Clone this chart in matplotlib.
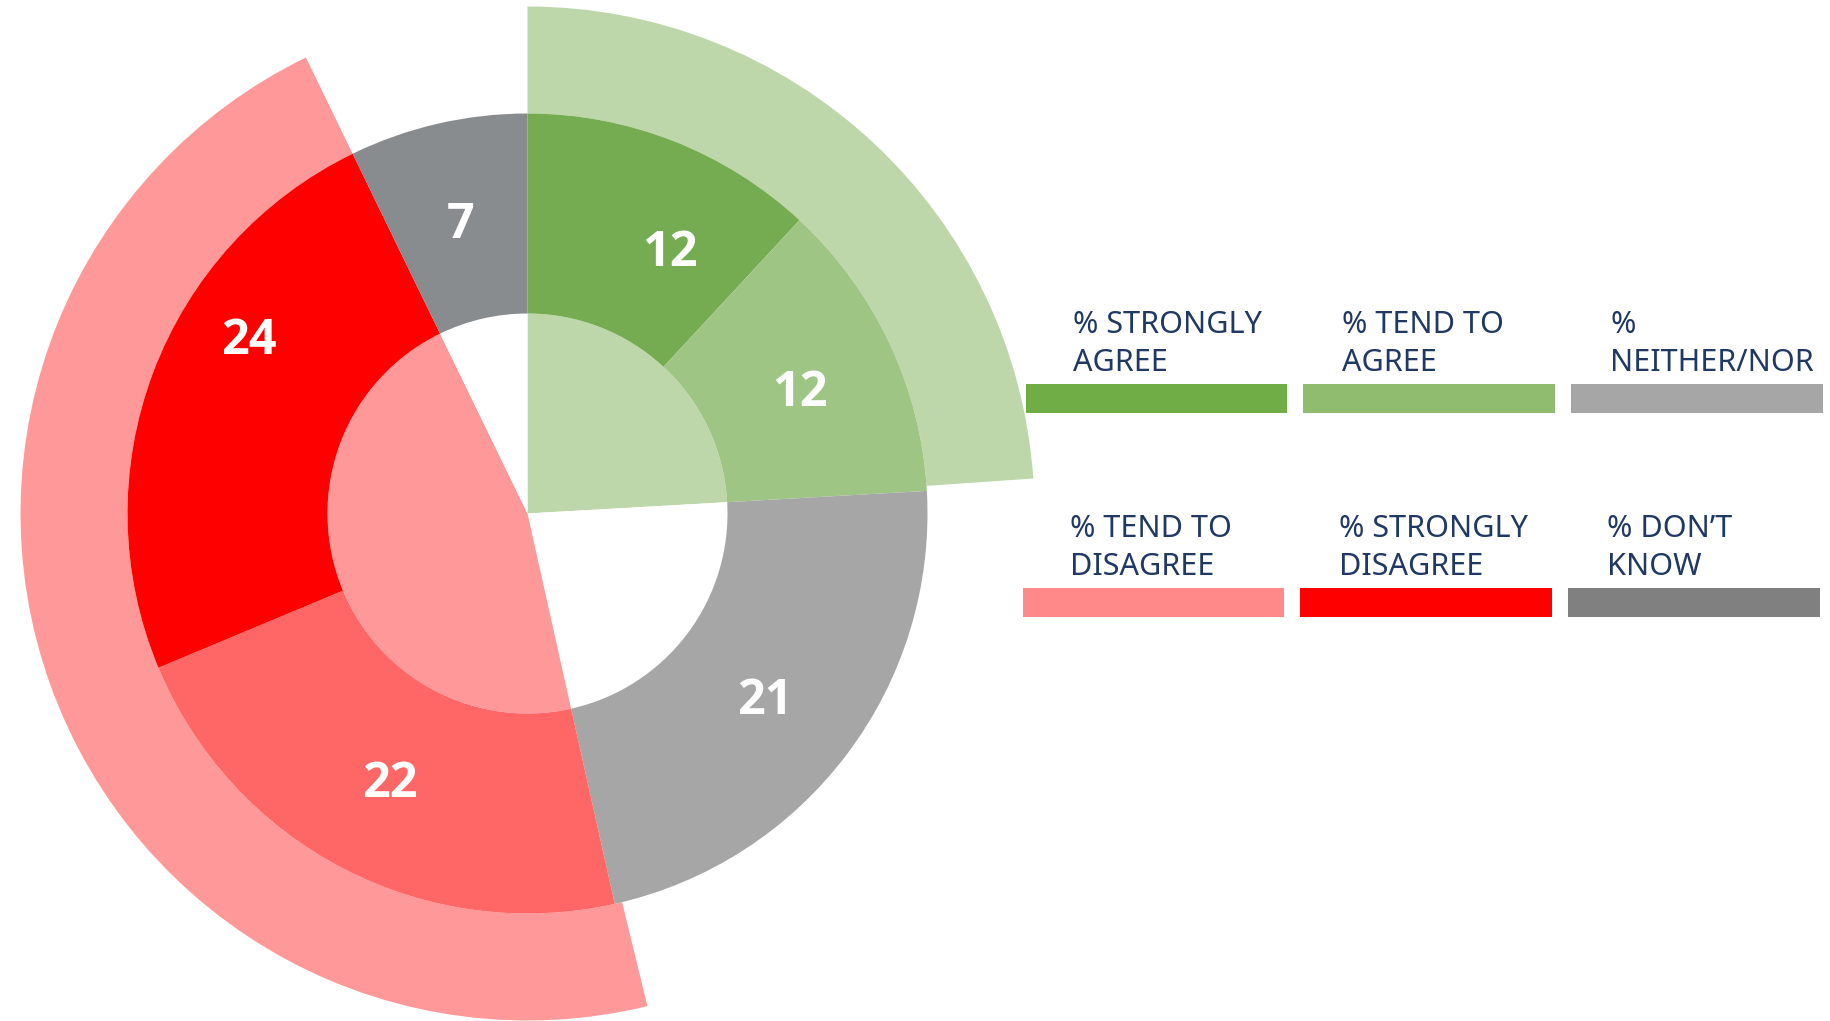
import numpy as np
import matplotlib.pyplot as plt
from matplotlib.patches import Wedge, Rectangle

# --- Data ---
categories = ['% STRONGLY\nAGREE', '% TEND TO\nAGREE', '%\nNEITHER/NOR',
              '% TEND TO\nDISAGREE', '% STRONGLY\nDISAGREE', '% DON\u2019T\nKNOW']
labels = [12, 12, 21, 22, 24, 7]
# slice sizes as drawn in the picture (percent of the circle)
shares = [11.9, 12.2, 22.4, 22.2, 24.1, 7.2]
# inner pie groups: agree (first two), neither, disagree (next two), don't know
groups = [[0, 1], [2], [3, 4], [5]]
# outer ring: agree, (gap), disagree, (gap)
outer_shares = [23.9, 22.3, 46.6, 7.2]

ring_colors = ['#75AC51', '#9FC585', '#A6A6A6', '#FF6666', '#FF0000', '#898C8F']
group_colors = ['#BDD7AA', 'white', '#FF9999', 'white']
outer_colors = ['#BDD7AA', None, '#FF9999', None]
legend_colors = ['#70AD47', '#8FBC6F', '#A6A6A6', '#FF8888', '#FF0000', '#808080']
label_nudge = [6.8, 0.6, 0.6, 0, 11.6, 0]       # degrees
label_rad = [300, 300, 300, 300, 330, 300]

W, H = 1830, 1021
fig = plt.figure(figsize=(W / 100, H / 100), dpi=100)
ax = fig.add_axes([0, 0, 1, 1])
ax.set_xlim(0, W)
ax.set_ylim(0, H)
ax.axis('off')

cx, cy = 527.5, H - 513.5
r_in, r_mid, r_out = 200, 400, 507

ang = np.concatenate([[0], np.cumsum(shares)]) / sum(shares) * 360  # clockwise from north
oang = np.concatenate([[0], np.cumsum(outer_shares)]) / sum(outer_shares) * 360


def wedge(a0, a1, r, width, color):
    ax.add_patch(Wedge((cx, cy), r, 90 - a1, 90 - a0, width=width,
                       facecolor=color, edgecolor='none'))


# outer ring
for i, col in enumerate(outer_colors):
    if col:
        wedge(oang[i], oang[i + 1], r_out, r_out - r_mid, col)

# inner pie
for g, col in zip(groups, group_colors):
    wedge(ang[g[0]], ang[g[-1] + 1], r_in, None, col)

# middle ring with value labels
for i, col in enumerate(ring_colors):
    wedge(ang[i], ang[i + 1], r_mid, r_mid - r_in, col)
    mid = np.deg2rad((ang[i] + ang[i + 1]) / 2 + label_nudge[i])
    rr = label_rad[i]
    ax.text(cx + rr * np.sin(mid), cy + rr * np.cos(mid) - 17, str(labels[i]),
            color='white', fontsize=35, fontweight='bold', family='Open Sans',
            ha='center', va='baseline')

# legend
bar_x = [[1026, 1303, 1571], [1023, 1300, 1568]]
bar_wd = [261, 252, 252]
bar_y = [384, 588]
txt_off = [47, 39, 39]
bar_h = 29
for i, (lab, col) in enumerate(zip(categories, legend_colors)):
    r, c = divmod(i, 3)
    x0, y0 = bar_x[r][c], bar_y[r]
    ax.add_patch(Rectangle((x0, H - y0 - bar_h), bar_wd[c], bar_h,
                           facecolor=col, edgecolor='none'))
    ax.text(x0 + txt_off[c], H - y0 + 6, lab, color='#1F3864', fontsize=22,
            family='Noto Sans', ha='left', va='bottom', linespacing=1.33)

fig.savefig('out.png', dpi=100)
